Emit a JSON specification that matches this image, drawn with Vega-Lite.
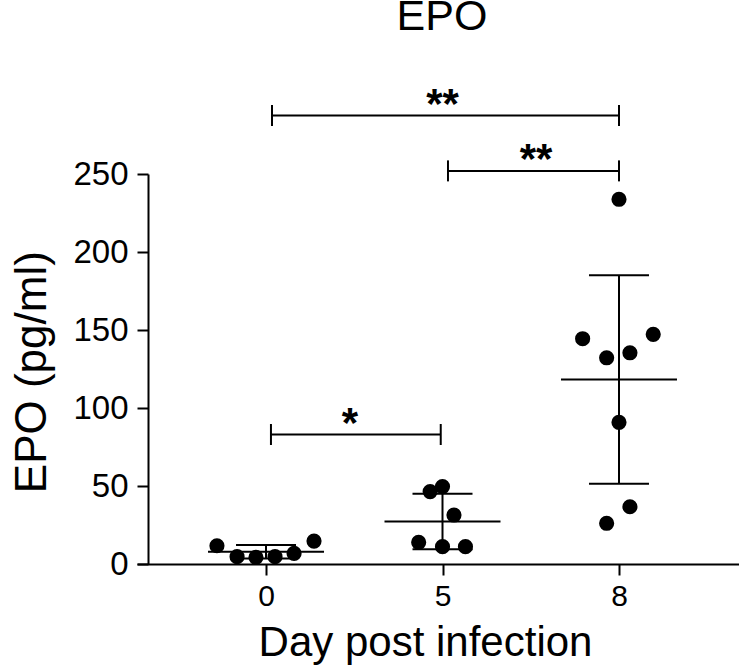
{
  "$schema": "https://vega.github.io/schema/vega-lite/v6.json",
  "width": 602,
  "height": 390,
  "autosize": {"type": "none"},
  "padding": {"left": 137, "top": 174, "right": 0, "bottom": 107},
  "background": "white",
  "config": {
    "view": {"stroke": null},
    "font": "Liberation Sans",
    "axisX": {
      "domainColor": "black", "domainWidth": 2, "tickColor": "black", "tickWidth": 2, "tickSize": 11,
      "labelFontSize": 30, "labelColor": "black", "labelPadding": 6, "labelFont": "Liberation Sans",
      "titleFontSize": 42, "titleFontWeight": "normal", "titleColor": "black", "titleFont": "Liberation Sans",
      "grid": false
    },
    "axisY": {
      "domainColor": "black", "domainWidth": 2, "tickColor": "black", "tickWidth": 2, "tickSize": 11,
      "labelFontSize": 33, "labelColor": "black", "labelPadding": 9, "labelFont": "Liberation Sans",
      "titleFontSize": 44, "titleFontWeight": "normal", "titleColor": "black", "titleFont": "Liberation Sans",
      "grid": false
    }
  },
  "title": {
    "text": "EPO", "fontSize": 43, "fontWeight": "normal", "font": "Liberation Sans", "color": "black",
    "anchor": "middle", "frame": "group", "offset": 45, "dx": 4
  },
  "datasets": {
    "pts": [
      {"day": "0", "g": 0, "pos": -0.278, "v": 11.7},
      {"day": "0", "g": 0, "pos": -0.164, "v": 4.7},
      {"day": "0", "g": 0, "pos": -0.057, "v": 4.3},
      {"day": "0", "g": 0, "pos": 0.051, "v": 4.7},
      {"day": "0", "g": 0, "pos": 0.159, "v": 6.8},
      {"day": "0", "g": 0, "pos": 0.272, "v": 14.7},
      {"day": "5", "g": 1, "pos": 0.93, "v": 46.4},
      {"day": "5", "g": 1, "pos": 1.0, "v": 49.6},
      {"day": "5", "g": 1, "pos": 1.065, "v": 31.4},
      {"day": "5", "g": 1, "pos": 0.865, "v": 13.9},
      {"day": "5", "g": 1, "pos": 1.0, "v": 11.1},
      {"day": "5", "g": 1, "pos": 1.13, "v": 11.1},
      {"day": "8", "g": 2, "pos": 2.0, "v": 233.8},
      {"day": "8", "g": 2, "pos": 1.794, "v": 144.4},
      {"day": "8", "g": 2, "pos": 2.194, "v": 147.2},
      {"day": "8", "g": 2, "pos": 1.93, "v": 132.2},
      {"day": "8", "g": 2, "pos": 2.062, "v": 135.4},
      {"day": "8", "g": 2, "pos": 2.0, "v": 90.8},
      {"day": "8", "g": 2, "pos": 2.062, "v": 36.7},
      {"day": "8", "g": 2, "pos": 1.93, "v": 26.1}
    ],
    "brk": [
      {"x1": 0.034, "x2": 2.0, "y": 287.5, "lx": 1.0, "label": "**"},
      {"x1": 1.031, "x2": 2.0, "y": 252, "lx": 1.53, "label": "**"},
      {"x1": 0.028, "x2": 0.99, "y": 83, "lx": 0.476, "label": "*"}
    ]
  },
  "layer": [
    {
      "data": {"name": "pts"},
      "transform": [
        {"aggregate": [{"op": "mean", "field": "v", "as": "m"}, {"op": "stdev", "field": "v", "as": "sd"}], "groupby": ["g"]},
        {"calculate": "datum.m + datum.sd", "as": "hi"},
        {"calculate": "datum.m - datum.sd", "as": "lo"}
      ],
      "encoding": {
        "x": {
          "field": "g", "type": "quantitative", "title": "Day post infection",
          "scale": {"domain": [-0.731, 2.68], "nice": false, "zero": false},
          "axis": {
            "title": "Day post infection", "values": [0, 1, 2],
            "labelExpr": "datum.value == 0 ? '0' : datum.value == 1 ? '5' : '8'",
            "titleX": 288, "titleY": 91, "titleBaseline": "alphabetic", "titleAlign": "center", "titleAngle": 0
          }
        }
      },
      "layer": [
        {
          "mark": {"type": "rule", "color": "black", "strokeWidth": 2},
          "encoding": {
            "y": {
              "field": "lo", "type": "quantitative", "title": "EPO (pg/ml)",
              "scale": {"domain": [0, 250], "nice": false, "zero": true},
              "axis": {
                "title": "EPO (pg/ml)", "values": [0, 50, 100, 150, 200, 250], "offset": -11,
                "titleX": -103, "titleY": 197.7, "titleAngle": -90, "titleBaseline": "alphabetic", "titleAlign": "center"
              }
            },
            "y2": {"field": "hi"}
          }
        },
        {
          "mark": {"type": "tick", "orient": "horizontal", "size": 116, "thickness": 2, "color": "black", "opacity": 1},
          "encoding": {"y": {"field": "m", "type": "quantitative", "title": "EPO (pg/ml)"}}
        },
        {
          "mark": {"type": "tick", "orient": "horizontal", "size": 60, "thickness": 2, "color": "black", "opacity": 1},
          "encoding": {"y": {"field": "hi", "type": "quantitative", "title": "EPO (pg/ml)"}}
        },
        {
          "mark": {"type": "tick", "orient": "horizontal", "size": 60, "thickness": 2, "color": "black", "opacity": 1},
          "encoding": {"y": {"field": "lo", "type": "quantitative", "title": "EPO (pg/ml)"}}
        }
      ]
    },
    {
      "data": {"name": "brk"},
      "layer": [
        {
          "mark": {"type": "rule", "color": "black", "strokeWidth": 2},
          "encoding": {
            "x": {"field": "x1", "type": "quantitative", "title": "Day post infection"},
            "x2": {"field": "x2"},
            "y": {"field": "y", "type": "quantitative", "title": "EPO (pg/ml)"}
          }
        },
        {
          "mark": {"type": "tick", "orient": "vertical", "size": 21, "thickness": 2, "color": "black", "opacity": 1},
          "encoding": {
            "x": {"field": "x1", "type": "quantitative", "title": "Day post infection"},
            "y": {"field": "y", "type": "quantitative", "title": "EPO (pg/ml)"}
          }
        },
        {
          "mark": {"type": "tick", "orient": "vertical", "size": 21, "thickness": 2, "color": "black", "opacity": 1},
          "encoding": {
            "x": {"field": "x2", "type": "quantitative", "title": "Day post infection"},
            "y": {"field": "y", "type": "quantitative", "title": "EPO (pg/ml)"}
          }
        },
        {
          "mark": {"type": "text", "fontSize": 42, "fontWeight": "bold", "font": "Liberation Sans", "color": "black", "align": "center", "baseline": "alphabetic", "dy": 2},
          "encoding": {
            "x": {"field": "lx", "type": "quantitative", "title": "Day post infection"},
            "y": {"field": "y", "type": "quantitative", "title": "EPO (pg/ml)"},
            "text": {"field": "label"}
          }
        }
      ]
    },
    {
      "data": {"name": "pts"},
      "mark": {"type": "circle", "size": 230, "color": "black", "opacity": 1},
      "encoding": {
        "x": {"field": "pos", "type": "quantitative", "title": "Day post infection"},
        "y": {"field": "v", "type": "quantitative", "title": "EPO (pg/ml)"}
      }
    }
  ]
}
